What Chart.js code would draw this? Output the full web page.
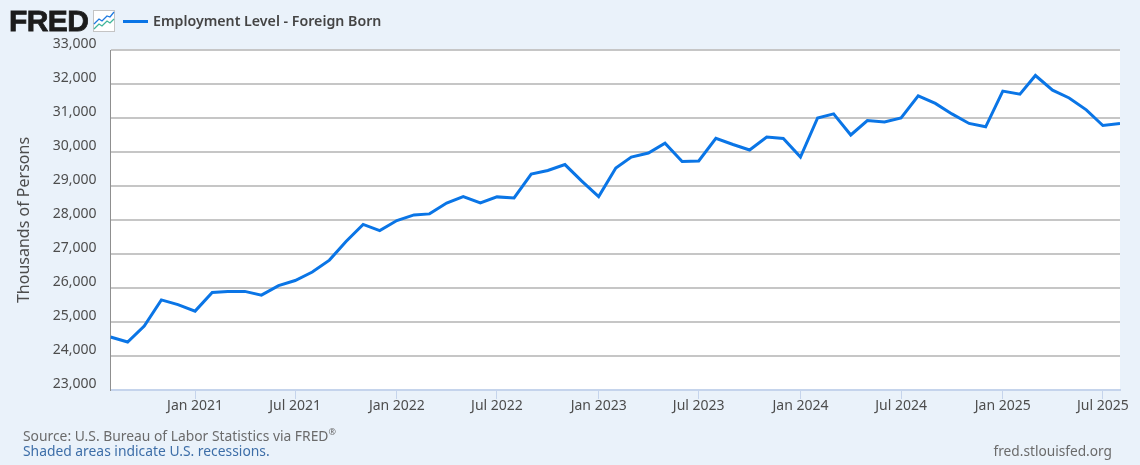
<!DOCTYPE html>
<html>
<head>
<meta charset="utf-8">
<title>Employment Level - Foreign Born</title>
<script src="https://cdn.jsdelivr.net/npm/chart.js@4"></script>
<style>
  html, body { margin: 0; padding: 0; background: #eaf2fa; }
  #wrap { position: relative; width: 1140px; height: 465px; overflow: hidden; font-family: "Noto Sans", sans-serif; }
  #wrap canvas { position: absolute; left: 0; top: 0; }
  .txt { position: absolute; white-space: nowrap; line-height: 16px; }
  #logo { left: 9px; top: 3px; font: bold 30px/36px "Liberation Sans", sans-serif; letter-spacing: -0.6px; color: #1c1c1c; -webkit-text-stroke: 0.8px #1c1c1c; }
  #icon { position: absolute; left: 93px; top: 10px; }
  #legendLine { position: absolute; left: 123px; top: 20px; width: 25px; height: 3px; background: #0a75e6; }
  #legendText { left: 153px; top: 13px; font-size: 14.2px; font-weight: 600; color: #444; }
  #source { left: 23px; top: 428px; font-size: 13.85px; color: #6b6b6b; }
  #shaded { left: 23px; top: 443px; font-size: 13.85px; color: #3d6ea8; }
  #site { right: 28px; top: 443px; font-size: 13.7px; color: #6b6b6b; }
  sup { font-size: 9px; line-height: 0; }
</style>
</head>
<body>
<div id="wrap">
  <canvas id="chart" width="1140" height="465"></canvas>
  <div class="txt" id="logo">FRED</div>
  <svg id="icon" width="22" height="22" viewBox="0 0 22 22">
    <rect x="0.5" y="0.5" width="21" height="21" fill="#fff" stroke="#c4c4c4"/>
    <polyline points="1,14 6,9 9,11 14,6 17,7 21,2" fill="none" stroke="#1f7ae0" stroke-width="1.3"/>
    <polyline points="1,19 6,14 9,16 14,11 17,13 21,9" fill="none" stroke="#3fb59a" stroke-width="1.3"/>
  </svg>
  <div id="legendLine"></div>
  <div class="txt" id="legendText">Employment Level - Foreign Born</div>
  <div class="txt" id="source">Source: U.S. Bureau of Labor Statistics via FRED<sup>®</sup></div>
  <div class="txt" id="shaded">Shaded areas indicate U.S. recessions.</div>
  <div class="txt" id="site">fred.stlouisfed.org</div>
</div>
<script>
const months = [
  '2020-08','2020-09','2020-10','2020-11','2020-12',
  '2021-01','2021-02','2021-03','2021-04','2021-05','2021-06','2021-07','2021-08','2021-09','2021-10','2021-11','2021-12',
  '2022-01','2022-02','2022-03','2022-04','2022-05','2022-06','2022-07','2022-08','2022-09','2022-10','2022-11','2022-12',
  '2023-01','2023-02','2023-03','2023-04','2023-05','2023-06','2023-07','2023-08','2023-09','2023-10','2023-11','2023-12',
  '2024-01','2024-02','2024-03','2024-04','2024-05','2024-06','2024-07','2024-08','2024-09','2024-10','2024-11','2024-12',
  '2025-01','2025-02','2025-03','2025-04','2025-05','2025-06','2025-07','2025-08'
];
const employment = [
  24560,24410,24880,25650,25510,
  25320,25870,25900,25900,25790,26070,26220,26470,26820,27370,27870,27690,
  27985,28150,28180,28500,28690,28500,28680,28650,29350,29455,29630,29150,
  28690,29530,29850,29970,30260,29720,29735,30400,30220,30060,30440,30400,
  29850,31000,31120,30500,30925,30880,31000,31650,31430,31120,30840,30740,
  31790,31700,32250,31820,31590,31240,30780,30840
];
const tickMonths = ['2021-01','2021-07','2022-01','2022-07','2023-01','2023-07','2024-01','2024-07','2025-01','2025-07'];
const tickLabels = ['Jan 2021','Jul 2021','Jan 2022','Jul 2022','Jan 2023','Jul 2023','Jan 2024','Jul 2024','Jan 2025','Jul 2025'];

const toTime = m => Date.parse(m + '-01T00:00:00Z');
const tickFont = { family: '"Noto Sans", sans-serif', size: 14 };
const tickColor = '#4d4d4d';

// white plot background behind the grid
const plotBg = {
  id: 'plotBg',
  beforeDraw(chart) {
    const a = chart.chartArea;
    chart.ctx.fillStyle = '#fff';
    chart.ctx.fillRect(a.left, a.top, a.width, a.height);
  }
};

new Chart(document.getElementById('chart'), {
  type: 'line',
  data: {
    datasets: [{
      label: 'Employment Level - Foreign Born',
      data: months.map((m, i) => ({ x: toTime(m), y: employment[i] })),
      borderColor: '#0a75e6',
      borderWidth: 3,
      pointRadius: 0,
      tension: 0,
      borderJoinStyle: 'miter'
    }]
  },
  plugins: [plotBg],
  options: {
    responsive: false,
    animation: false,
    layout: { padding: { left: 15, top: 50, right: 20, bottom: 45 } },
    plugins: { legend: { display: false }, tooltip: { enabled: false } },
    scales: {
      x: {
        type: 'linear',
        min: toTime(months[0]),
        max: toTime(months[months.length - 1]),
        afterBuildTicks: s => { s.ticks = tickMonths.map(m => ({ value: toTime(m) })); },
        afterFit: s => { s.height = 30; s.paddingLeft = 0; s.paddingRight = 0; },
        border: { color: '#c5d4ec', width: 2 },
        grid: { drawOnChartArea: false, drawTicks: true, tickLength: 9, color: '#c5d4ec', tickWidth: 1 },
        ticks: {
          autoSkip: false, maxRotation: 0, padding: -1, color: tickColor, font: tickFont,
          callback: v => tickLabels[tickMonths.findIndex(m => toTime(m) === v)]
        }
      },
      y: {
        min: 23000,
        max: 33000,
        afterFit: s => { s.width = 95.5; s.paddingTop = 0; s.paddingBottom = 0; },
        border: { color: '#8f8f8f', width: 1 },
        grid: {
          drawTicks: false,
          lineWidth: 2,
          color: c => c.tick && c.tick.value === 23000 ? 'rgba(0,0,0,0)' : '#c6c6c6'
        },
        ticks: {
          stepSize: 1000, padding: 14, labelOffset: -6, color: tickColor, font: tickFont,
          callback: v => v.toLocaleString('en-US')
        },
        title: {
          display: true, text: 'Thousands of Persons', color: tickColor,
          font: { family: '"Noto Sans", sans-serif', size: 16 }, padding: 0
        }
      }
    }
  }
});
</script>
</body>
</html>
